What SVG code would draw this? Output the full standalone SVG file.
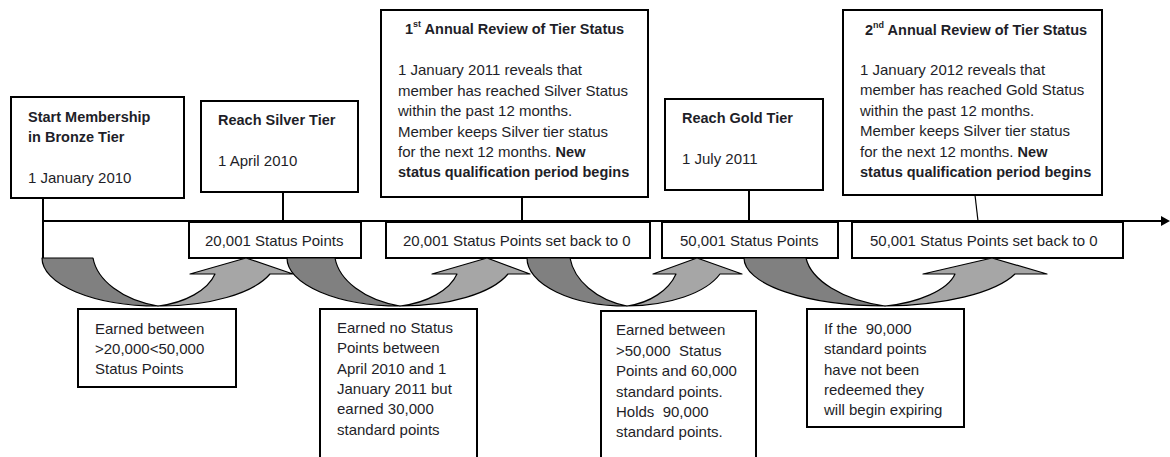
<svg xmlns="http://www.w3.org/2000/svg" width="1170" height="457" viewBox="0 0 1170 457">
<style>
  .box { fill: #ffffff; stroke: #000000; stroke-width: 2; }
  .ln { stroke: #000000; stroke-width: 2; fill: none; }
  .thin { stroke: #000000; stroke-width: 1.2; fill: none; }
  .t { font-family: "Liberation Sans", Arial, sans-serif; font-size: 15px; fill: #1e1e28; }
  .b { font-family: "Liberation Sans", Arial, sans-serif; font-size: 14.5px; font-weight: bold; fill: #1e1e28; }
  .dark { fill: #808080; stroke: #000000; stroke-width: 1.2; stroke-linejoin: round; }
  .light { fill: #a6a6a6; stroke: #000000; stroke-width: 1.2; stroke-linejoin: round; }
</style>
<rect width="1170" height="457" fill="#ffffff"/>

<g id="connectors">
  <line class="ln" x1="43" y1="221" x2="1162" y2="221"/>
  <polygon points="1161,216 1170,221 1161,226" fill="#000000"/>
  <line class="ln" x1="43" y1="198" x2="43" y2="258"/>
  <line class="ln" x1="283" y1="192" x2="283" y2="221"/>
  <line class="ln" x1="522" y1="197" x2="522" y2="221"/>
  <line class="ln" x1="749" y1="190" x2="749" y2="221"/>
  <line class="thin" x1="975" y1="195" x2="978" y2="221"/>
</g>

<g id="n-start">
  <rect class="box" x="11" y="97" width="173" height="101"/>
  <text class="b" x="28" y="122">Start Membership</text>
  <text class="b" x="28" y="142">in Bronze Tier</text>
  <text class="t" x="28" y="183">1 January 2010</text>
</g>
<g id="n-silver">
  <rect class="box" x="201" y="101" width="157" height="91"/>
  <text class="b" x="218" y="125">Reach Silver Tier</text>
  <text class="t" x="218" y="166">1 April 2010</text>
</g>
<g id="n-review1">
  <rect class="box" x="381" y="10" width="267" height="187"/>
  <text class="b" x="405" y="34">1<tspan font-size="9" dy="-7">st</tspan><tspan dy="7"> Annual Review of Tier Status</tspan></text>
  <text class="t" x="398" y="75">1 January 2011 reveals that</text>
  <text class="t" x="398" y="96">member has reached Silver Status</text>
  <text class="t" x="398" y="116">within the past 12 months.</text>
  <text class="t" x="398" y="137">Member keeps Silver tier status</text>
  <text class="t" x="398" y="157">for the next 12 months. <tspan class="b">New</tspan></text>
  <text class="b" x="398" y="177">status qualification period begins</text>
</g>
<g id="n-gold">
  <rect class="box" x="665" y="99" width="158" height="91"/>
  <text class="b" x="682" y="123">Reach Gold Tier</text>
  <text class="t" x="682" y="164">1 July 2011</text>
</g>
<g id="n-review2">
  <rect class="box" x="843" y="10" width="259" height="185"/>
  <text class="b" x="865" y="35">2<tspan font-size="9" dy="-7">nd</tspan><tspan dy="7"> Annual Review of Tier Status</tspan></text>
  <text class="t" x="860" y="75">1 January 2012 reveals that</text>
  <text class="t" x="860" y="95">member has reached Gold Status</text>
  <text class="t" x="860" y="116">within the past 12 months.</text>
  <text class="t" x="860" y="136">Member keeps Silver tier status</text>
  <text class="t" x="860" y="157">for the next 12 months. <tspan class="b">New</tspan></text>
  <text class="b" x="860" y="177">status qualification period begins</text>
</g>

<g id="n-pts1">
  <rect class="box" x="189" y="222" width="172" height="36"/>
  <text class="t" x="205" y="246">20,001 Status Points</text>
</g>
<g id="n-pts2">
  <rect class="box" x="386" y="222" width="264" height="36"/>
  <text class="t" x="403" y="246">20,001 Status Points set back to 0</text>
</g>
<g id="n-pts3">
  <rect class="box" x="662" y="222" width="176" height="36"/>
  <text class="t" x="680" y="246">50,001 Status Points</text>
</g>
<g id="n-pts4">
  <rect class="box" x="852" y="222" width="271" height="36"/>
  <text class="t" x="870" y="246">50,001 Status Points set back to 0</text>
</g>

<g id="arrow1">
  <path class="dark" d="M42,258 L93,258 C97,280 122,300 158,306 A116,48 0 0 1 42,258 Z"/>
  <path class="light" d="M158,306 A116,48 0 0 0 270,274 L293,274 L246,258 L190,274 L215,274 C208,290 185,303 158,306 Z"/>
</g>
<g id="arrow2">
  <path class="dark" d="M287,258 L335,258 C339,280 364,300 400,306 A113,48 0 0 1 287,258 Z"/>
  <path class="light" d="M400,306 A113,48 0 0 0 508,274 L530,274 L487,258 L432,274 L457,274 C450,290 427,303 400,306 Z"/>
</g>
<g id="arrow3">
  <path class="dark" d="M527,258 L570,258 C574,280 596,300 627,306 A100,48 0 0 1 527,258 Z"/>
  <path class="light" d="M627,306 A100,48 0 0 0 720,274 L742,274 L697,258 L653,274 L676,274 C669,290 650,303 627,306 Z"/>
</g>
<g id="arrow4">
  <path class="dark" d="M744,258 L806,258 C811,280 842,300 885,306 A141,48 0 0 1 744,258 Z"/>
  <path class="light" d="M885,306 A141,48 0 0 0 1015,274 L1047,274 L992,258 L923,274 L955,274 C948,290 918,303 885,306 Z"/>
</g>

<g id="n-earned1">
  <rect class="box" x="78" y="309" width="158" height="78"/>
  <text class="t" x="95" y="334">Earned between</text>
  <text class="t" x="95" y="354">&gt;20,000&lt;50,000</text>
  <text class="t" x="95" y="374">Status Points</text>
</g>
<g id="n-earned2">
  <rect class="box" x="320" y="309" width="157" height="170"/>
  <text class="t" x="337" y="333">Earned no Status</text>
  <text class="t" x="337" y="353">Points between</text>
  <text class="t" x="337" y="374">April 2010 and 1</text>
  <text class="t" x="337" y="394">January 2011 but</text>
  <text class="t" x="337" y="414">earned 30,000</text>
  <text class="t" x="337" y="435">standard points</text>
</g>
<g id="n-earned3">
  <rect class="box" x="601" y="311" width="155" height="170"/>
  <text class="t" x="616" y="335">Earned between</text>
  <text class="t" x="616" y="356">&gt;50,000&#160; Status</text>
  <text class="t" x="616" y="376">Points and 60,000</text>
  <text class="t" x="616" y="397">standard points.</text>
  <text class="t" x="616" y="417">Holds&#160; 90,000</text>
  <text class="t" x="616" y="437">standard points.</text>
</g>
<g id="n-expire">
  <rect class="box" x="807" y="309" width="157" height="118"/>
  <text class="t" x="824" y="334">If the&#160; 90,000</text>
  <text class="t" x="824" y="354">standard points</text>
  <text class="t" x="824" y="375">have not been</text>
  <text class="t" x="824" y="395">redeemed they</text>
  <text class="t" x="824" y="415">will begin expiring</text>
</g>
</svg>
